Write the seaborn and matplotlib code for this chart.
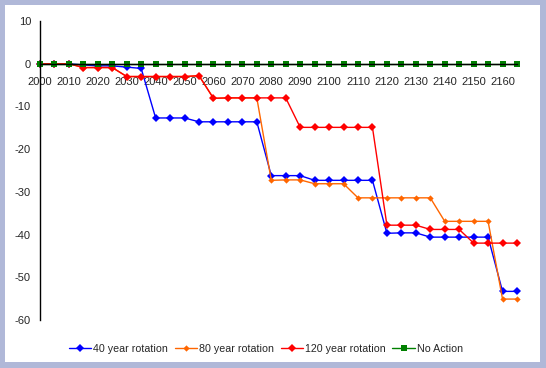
import pandas as pd
import matplotlib.pyplot as plt
import seaborn as sns
from matplotlib.patches import Rectangle
from matplotlib.lines import Line2D

# --------------------------------
# DATA
# --------------------------------

years = list(range(2000, 2166, 5))

rot40 = [0, 0, 0, -0.3, -0.5, -0.5, -0.8, -1.1,
         -12.7, -12.7, -12.7, -13.6, -13.6, -13.6, -13.6, -13.6,
         -26.2, -26.2, -26.2, -27.3, -27.3, -27.3, -27.3, -27.3,
         -39.7, -39.6, -39.6, -40.6, -40.6, -40.6, -40.6, -40.6,
         -53.3, -53.3]

rot80 = [0, 0, 0, -0.9, -0.9, -0.9, -3.0, -3.0,
         -3.0, -3.0, -3.0, -2.8, -8.1, -8.0, -8.0, -8.0,
         -27.3, -27.2, -27.2, -28.1, -28.1, -28.1, -31.4, -31.4,
         -31.4, -31.4, -31.4, -31.4, -36.9, -36.9, -36.9, -36.9,
         -55.1, -55.1]

rot120 = [0, 0, 0, -0.9, -0.9, -0.9, -3.0, -3.0,
          -3.0, -3.0, -3.0, -2.8, -8.1, -8.0, -8.0, -8.0,
          -8.0, -8.0, -14.9, -14.9, -14.9, -14.9, -14.9, -14.9,
          -37.8, -37.8, -37.8, -38.8, -38.8, -38.8, -42.0, -42.0,
          -42.0, -42.0]

no_action = [0] * len(years)

series = [
    ("40 year rotation", rot40, "#0000FF", "D", 4.0),
    ("80 year rotation", rot80, "#FF6600", "D", 3.2),
    ("120 year rotation", rot120, "#FF0000", "D", 4.0),
    ("No Action", no_action, "#008000", "s", 4.3),
]

x_labels = list(range(2000, 2161, 10))

# --------------------------------
# FIGURE
# --------------------------------

sns.set_style("white")
plt.rcParams["font.family"] = ["Liberation Sans", "DejaVu Sans"]
plt.rcParams["axes.unicode_minus"] = False

W, H = 546, 368
fig = plt.figure(figsize=(W / 100, H / 100), dpi=100)
fig.patch.set_facecolor("#B0B8D8")
fig.patches.append(Rectangle((5 / W, 6 / H), 535 / W, 357 / H,
                             transform=fig.transFigure,
                             facecolor="white", edgecolor="none", zorder=-5))

ax = fig.add_axes([40 / W, 1 - 320 / H, 477 / W, 299 / H])
ax.set_facecolor("none")

handles = []
for name, vals, color, marker, ms in series:
    df = pd.DataFrame({"year": years, "value": vals})
    sns.lineplot(data=df, x="year", y="value", ax=ax, color=color,
                 marker=marker, markersize=ms, markeredgewidth=0,
                 linewidth=1.0, clip_on=False)
    handles.append(Line2D([], [], color=color, marker=marker,
                          markersize=ms, markeredgewidth=0,
                          linewidth=1.0, label=name))

ax.set_xlim(2000, 2165)
ax.set_ylim(-60, 10)
ax.set_yticks(range(-60, 11, 10))
ax.set_xticks(x_labels)
ax.set_xticklabels([str(v) for v in x_labels])

ax.spines["top"].set_visible(False)
ax.spines["right"].set_visible(False)
ax.spines["bottom"].set_position(("data", 0))
for s in ["left", "bottom"]:
    ax.spines[s].set_color("black")
    ax.spines[s].set_linewidth(1.0)

ax.tick_params(axis="both", which="both", direction="out", length=3,
               width=1, color="black", labelsize=8)
ax.tick_params(axis="y", pad=3.5)
ax.tick_params(axis="x", pad=6.5)

ax.set_xlabel("")
ax.set_ylabel("")

fig.legend(handles=handles, loc="center", bbox_to_anchor=(266 / W, 1 - 349 / H),
           ncol=4, frameon=False, fontsize=7.7, handlelength=2.1,
           handletextpad=0.2, columnspacing=0.6)

fig.savefig("out.png", dpi=100, facecolor=fig.get_facecolor())
